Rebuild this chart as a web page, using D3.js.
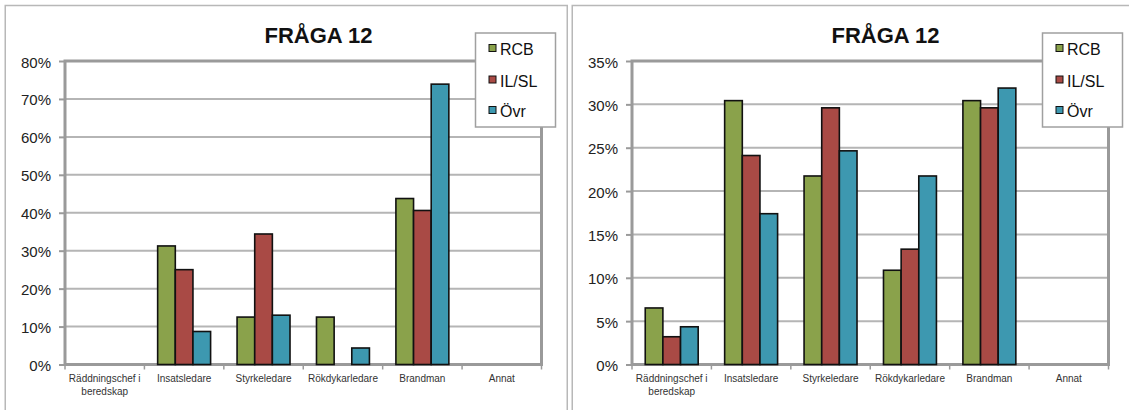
<!DOCTYPE html>
<html>
<head>
<meta charset="utf-8">
<script src="https://cdn.jsdelivr.net/npm/d3@7"></script>
<style>
  html, body { margin: 0; padding: 0; background: #fff; }
  svg { display: block; font-family: "Liberation Sans", Arial, sans-serif; }
</style>
</head>
<body>
<svg id="c" width="1129" height="410"></svg>
<script>
const categories = ["Räddningschef i beredskap", "Insatsledare", "Styrkeledare", "Rökdykarledare", "Brandman", "Annat"];
const seriesNames = ["RCB", "IL/SL", "Övr"];
const seriesColors = ["#8aa24b", "#a94a45", "#3d98b0"];
const chartTitle = "FRÅGA 12";

// Left chart values (%)
const leftRCB  = [0, 31.25, 12.5, 12.5, 43.75, 0];
const leftIL   = [0, 25.0, 34.4, 0, 40.6, 0];
const leftOvr  = [0, 8.7, 13.0, 4.35, 73.9, 0];
const leftTicks = [0, 10, 20, 30, 40, 50, 60, 70, 80];

// Right chart values (%)
const rightRCB = [6.52, 30.43, 21.74, 10.87, 30.43, 0];
const rightIL  = [3.2, 24.1, 29.6, 13.3, 29.6, 0];
const rightOvr = [4.35, 17.39, 24.64, 21.74, 31.88, 0];
const rightTicks = [0, 5, 10, 15, 20, 25, 30, 35];

const svg = d3.select("#c");

function drawChart(ox, series, ticks) {
  const g = svg.append("g").attr("transform", `translate(${ox},0)`);
  g.append("rect").attr("x", 0.75).attr("y", 5.5).attr("width", 562).attr("height", 440)
    .attr("fill", "#fff").attr("stroke", "#b8b8b8").attr("stroke-width", 1.5);

  const P = { l: 60.5, r: 537, t: 61, b: 364.5 };
  const ymax = ticks[ticks.length - 1];
  const x = d3.scaleBand().domain(categories).range([P.l, P.r]);
  const x1 = d3.scaleBand().domain(seriesNames).range([0, x.bandwidth()]).paddingInner(0).paddingOuter(0.75);
  const y = d3.scaleLinear().domain([0, ymax]).range([P.b, P.t]);

  // gridlines
  g.append("g").selectAll("line").data(ticks.filter(t => t > 0 && t < ymax)).join("line")
    .attr("x1", P.l).attr("x2", P.r).attr("y1", d => y(d)).attr("y2", d => y(d))
    .attr("stroke", "#b5b5b5").attr("stroke-width", 2);

  // y axis
  const ya = g.append("g").attr("transform", `translate(${P.l},0)`)
    .call(d3.axisLeft(y).tickValues(ticks).tickSize(6).tickPadding(8).tickFormat(d => d + "%"));
  ya.select(".domain").remove();
  ya.selectAll(".tick line").attr("stroke", "#9a9a9a").attr("stroke-width", 2);
  ya.selectAll(".tick text").attr("font-size", 15).attr("fill", "#222").attr("dy", "0.4em")
    .attr("font-family", "Liberation Sans, Arial, sans-serif");

  // x tick marks at category boundaries
  const bounds = categories.map(c => x(c)).concat([P.r]);
  g.append("g").selectAll("line").data(bounds).join("line")
    .attr("x1", d => d).attr("x2", d => d).attr("y1", P.b).attr("y2", P.b + 5)
    .attr("stroke", "#9a9a9a").attr("stroke-width", 1.5);

  // x labels with wrapping
  const xl = g.append("g").selectAll("text").data(categories).join("text")
    .attr("x", d => x(d) + x.bandwidth() / 2).attr("y", P.b + 17)
    .attr("text-anchor", "middle").attr("font-size", 10).attr("fill", "#333");
  xl.each(function(d) {
    const t = d3.select(this);
    const words = d.split(" ");
    let line = [];
    let ts = t.append("tspan").attr("x", x(d) + x.bandwidth() / 2).attr("dy", 0);
    words.forEach(w => {
      line.push(w);
      ts.text(line.join(" "));
      if (ts.node().getComputedTextLength() > x.bandwidth() - 4 && line.length > 1) {
        line.pop();
        ts.text(line.join(" "));
        line = [w];
        ts = t.append("tspan").attr("x", x(d) + x.bandwidth() / 2).attr("dy", 13).text(w);
      }
    });
  });

  // plot frame
  g.append("rect").attr("x", P.l).attr("y", P.t).attr("width", P.r - P.l).attr("height", P.b - P.t)
    .attr("fill", "none").attr("stroke", "#9a9a9a").attr("stroke-width", 3);

  // bars
  const rows = [];
  categories.forEach((c, i) => seriesNames.forEach((s, j) => {
    if (series[j][i] > 0) rows.push({ c, s, j, v: series[j][i] });
  }));
  g.append("g").selectAll("rect").data(rows).join("rect")
    .attr("x", d => x(d.c) + x1(d.s)).attr("width", x1.bandwidth())
    .attr("y", d => y(d.v)).attr("height", d => P.b - y(d.v))
    .attr("fill", d => seriesColors[d.j]).attr("stroke", "#111").attr("stroke-width", 1.6);

  // title
  g.append("text").attr("x", 314).attr("y", 42.5).attr("text-anchor", "middle")
    .attr("font-size", 22).attr("font-weight", "bold").attr("fill", "#111").text(chartTitle);

  // legend
  const L = g.append("g");
  L.append("rect").attr("x", 471).attr("y", 33).attr("width", 80).attr("height", 94)
    .attr("fill", "#fff").attr("stroke", "#a0a0a0").attr("stroke-width", 1.5);
  const base = [55, 86.5, 117];
  seriesNames.forEach((s, j) => {
    L.append("rect").attr("x", 484.5).attr("y", base[j] - 10.5).attr("width", 7).attr("height", 7)
      .attr("fill", seriesColors[j]).attr("stroke", "#111").attr("stroke-width", 1);
    L.append("text").attr("x", 495.5).attr("y", base[j]).attr("font-size", 16).attr("fill", "#111").text(s);
  });
}

drawChart(4.5, [leftRCB, leftIL, leftOvr], leftTicks);
drawChart(571.5, [rightRCB, rightIL, rightOvr], rightTicks);
</script>
</body>
</html>
